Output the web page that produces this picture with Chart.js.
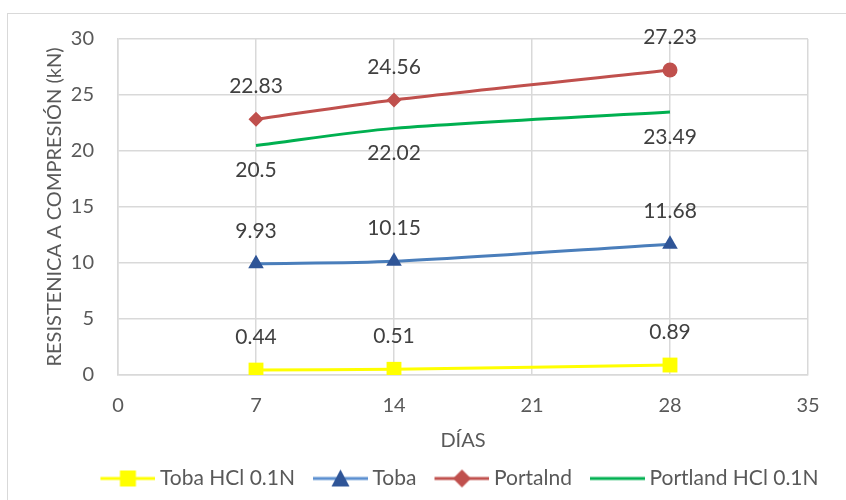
<!DOCTYPE html>
<html>
<head>
<meta charset="utf-8">
<script src="https://cdn.jsdelivr.net/npm/chart.js@4/dist/chart.umd.min.js"></script>
<style>
  html, body { margin: 0; padding: 0; background: #fff; }
  #wrap { position: relative; width: 846px; height: 500px; overflow: hidden; }
  #frame { position: absolute; left: 7px; top: 13px; width: 860px; height: 500px; border: 1px solid #d9d9d9; box-sizing: border-box; }
  canvas { position: absolute; left: 0; top: 0; }
</style>
</head>
<body>
<div id="wrap">
  <div id="frame"></div>
  <canvas id="chart" width="846" height="500"></canvas>
</div>
<script>
// días de ensayo
const dias = [7, 14, 28];
const tobaHCl = [0.44, 0.51, 0.89];
const toba = [9.93, 10.15, 11.68];
const portland = [22.83, 24.56, 27.23];
const portlandHCl = [20.5, 22.02, 23.49];
const xTicks = [0, 7, 14, 21, 28, 35];
const yTicks = [0, 5, 10, 15, 20, 25, 30];

const FONT = 'Lato, "Open Sans", sans-serif';
const pts = vals => vals.map((v, i) => ({ x: dias[i], y: v }));

// icono de leyenda: línea con marcador (más ancho que la caja, desplazado a la derecha)
function legendIcon(lineColor, markColor, shape) {
  const c = document.createElement('canvas');
  c.width = 70; c.height = 22;
  const g = c.getContext('2d');
  g.strokeStyle = lineColor; g.lineWidth = 3;
  g.beginPath(); g.moveTo(15, 11); g.lineTo(70, 11); g.stroke();
  const cx = 42.5;
  g.fillStyle = markColor;
  if (shape === 'rect') g.fillRect(cx - 8, 3, 16, 16);
  if (shape === 'triangle') { g.beginPath(); g.moveTo(cx, 2); g.lineTo(cx + 9, 19); g.lineTo(cx - 9, 19); g.closePath(); g.fill(); }
  if (shape === 'diamond') { g.beginPath(); g.moveTo(cx, 2); g.lineTo(cx + 9, 11); g.lineTo(cx, 20); g.lineTo(cx - 9, 11); g.closePath(); g.fill(); }
  return c;
}

// etiquetas de valor sobre/bajo cada punto
const valueLabels = {
  id: 'valueLabels',
  afterDatasetsDraw(chart) {
    const ctx = chart.ctx;
    ctx.save();
    ctx.font = '21px ' + FONT;
    ctx.fillStyle = '#404040';
    ctx.textAlign = 'center';
    ctx.textBaseline = 'middle';
    chart.data.datasets.forEach((ds, i) => {
      const meta = chart.getDatasetMeta(i);
      meta.data.forEach((p, j) => {
        const off = ds.labelBelow ? 25 : -33;
        ctx.fillText(String(ds.data[j].y), p.x, p.y + off);
      });
    });
    ctx.restore();
  }
};

// la leyenda va algo corrida a la derecha
const legendShift = {
  id: 'legendShift',
  afterLayout(chart) {
    chart.legend.left += 42;
    chart.legend.right += 42;
  }
};

new Chart(document.getElementById('chart'), {
  type: 'line',
  data: {
    datasets: [{
        label: 'Toba HCl 0.1N',
        data: pts(tobaHCl),
        borderColor: '#ffff00',
        backgroundColor: '#ffff00',
        borderWidth: 3,
        pointStyle: 'rect',
        pointRadius: 10.5,
        pointBorderWidth: 0,
        tension: 0.3,
        icon: legendIcon('#ffff00', '#ffff00', 'rect')
      }, {
        label: 'Toba',
        data: pts(toba),
        borderColor: '#4a7ebb',
        backgroundColor: '#2f5597',
        borderWidth: 3,
        pointStyle: 'triangle',
        pointRadius: 9,
        pointBorderWidth: 0,
        tension: 0.3,
        icon: legendIcon('#5b8fd0', '#2f5597', 'triangle')
      }, {
        label: 'Portalnd',
        data: pts(portland),
        borderColor: '#c0504d',
        backgroundColor: '#c0504d',
        borderWidth: 3,
        pointStyle: ['rectRot', 'rectRot', 'circle'],
        pointRadius: 7.5,
        pointBorderWidth: 0,
        tension: 0.3,
        icon: legendIcon('#c0504d', '#c0504d', 'diamond')
      }, {
        label: 'Portland HCl 0.1N',
        data: pts(portlandHCl),
        borderColor: '#00b050',
        backgroundColor: '#00b050',
        borderWidth: 3,
        pointRadius: 0,
        tension: 0.3,
        labelBelow: true,
        icon: legendIcon('#00b050', '#00b050', 'none')
      }
    ]
  },
  options: {
    responsive: false,
    animation: false,
    layout: { padding: { left: 18, right: 38, top: 39, bottom: 1 } },
    plugins: {
      title: { display: false },
      tooltip: { enabled: false },
      legend: {
        position: 'bottom',
        labels: {
          usePointStyle: true,
          pointStyleWidth: 58,
          padding: 9,
          color: '#595959',
          font: { family: FONT, size: 21 },
          generateLabels: chart => chart.data.datasets.map((ds, i) => ({
            text: ds.label,
            pointStyle: ds.icon,
            fontColor: '#595959',
            lineWidth: 0,
            datasetIndex: i
          }))
        }
      }
    },
    scales: {
      x: {
        type: 'linear',
        min: 0, max: 35,
        afterBuildTicks: axis => { axis.ticks = xTicks.map(v => ({ value: v })); },
        afterFit: axis => { axis.height = 84; },
        ticks: { color: '#595959', font: { family: FONT, size: 20 }, padding: 19 },
        grid: { color: '#d9d9d9', lineWidth: 1.5, drawTicks: false },
        border: { color: '#d9d9d9', width: 1.5 },
        title: { display: true, text: 'DÍAS', color: '#595959', font: { family: FONT, size: 20 }, padding: { top: 0, bottom: 6 } }
      },
      y: {
        min: 0, max: 30,
        afterBuildTicks: axis => { axis.ticks = yTicks.map(v => ({ value: v })); },
        afterFit: axis => { axis.width = 100; },
        ticks: { color: '#595959', font: { family: FONT, size: 20 }, padding: 24 },
        grid: { color: '#d9d9d9', lineWidth: 1.5, drawTicks: false },
        border: { color: '#d9d9d9', width: 1.5 },
        title: { display: true, text: 'RESISTENICA A COMPRESIÓN (kN)', color: '#595959', font: { family: FONT, size: 20 }, padding: { top: 25, bottom: 0 } }
      }
    }
  },
  plugins: [valueLabels, legendShift]
});
</script>
</body>
</html>
